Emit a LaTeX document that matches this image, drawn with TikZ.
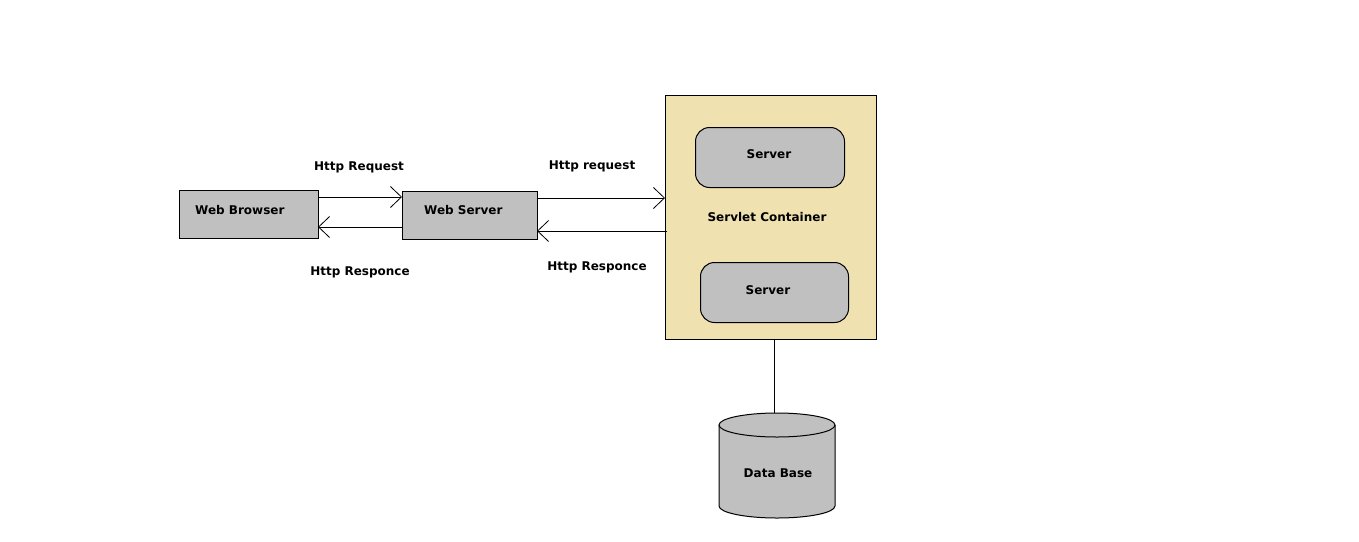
\documentclass[tikz,border=0pt]{standalone}
\usepackage{fontspec}
\setmainfont{DejaVu Sans}
\usetikzlibrary{arrows.meta}
\definecolor{boxgray}{HTML}{C0C0C0}
\definecolor{cont}{HTML}{EFE2B0}
\tikzset{
  lbl/.style={font=\bfseries\fontsize{12}{14}\selectfont, inner sep=0pt},
  gbox/.style={draw=black, fill=boxgray, line width=1pt, inner sep=0pt},
  conn/.style={line width=0.9pt, -{Straight Barb[length=11pt,width=21pt,line width=0.8pt]}},
  plain/.style={line width=0.9pt}
}
\begin{document}
\begin{tikzpicture}[x=1pt,y=-1pt]
\useasboundingbox[fill=white] (0,0) rectangle (1359,541);
% boxes
\node[gbox, minimum width=139pt, minimum height=48pt, anchor=north west] (wb) at (179,190) {};
\node[lbl, anchor=west] (wbt) at (195,210) {Web Browser};
\node[gbox, minimum width=135pt, minimum height=48pt, anchor=north west] (ws) at (402,191) {};
\node[lbl, anchor=west] (wst) at (424,210) {Web Server};
% container
\node[draw=black, fill=cont, line width=1pt, minimum width=211pt, minimum height=244pt, anchor=north west, inner sep=0pt] (sc) at (665,95) {};
\node[gbox, rounded corners=14pt, minimum width=149pt, minimum height=60pt, anchor=north west] (s1) at (695,127) {};
\node[lbl] (s1t) at (769,154) {Server};
\node[gbox, rounded corners=14pt, minimum width=148pt, minimum height=60pt, anchor=north west] (s2) at (700,262) {};
\node[lbl] (s2t) at (768,290) {Server};
\node[lbl] (sct) at (767,217) {Servlet Container};
% database (cylinder drawn by hand)
\node[minimum width=116pt, minimum height=107pt, anchor=north, inner sep=0pt] (db) at (777,412) {};
\fill[boxgray] (719,425) -- (719,506) arc[start angle=180, end angle=0, x radius=58, y radius=12] -- (835,425) arc[start angle=0, end angle=-180, x radius=58, y radius=12] -- cycle;
\draw[line width=1pt] (719,425) -- (719,506) arc[start angle=180, end angle=0, x radius=58, y radius=12] -- (835,425);
\draw[line width=1pt] (777,425) ellipse[x radius=58, y radius=12];
\node[lbl] (dbt) at (778,473) {Data Base};
% connector anchors
\coordinate (a1s) at (318,197);
\coordinate (a1e) at (402,197);
\coordinate (a2s) at (402,227);
\coordinate (a2e) at (318,227);
\coordinate (a3s) at (537,198);
\coordinate (a3e) at (665,198);
\coordinate (a4s) at (667,231);
\coordinate (a4e) at (537,231);
\coordinate (dbtop) at (774,413);
\draw[conn] (a1s) -- (a1e);
\draw[conn] (a2s) -- (a2e);
\draw[conn] (a3s) -- (a3e);
\draw[conn] (a4s) -- (a4e);
\draw[plain] (sc.south -| dbtop) -- (dbtop);
% labels
\node[lbl] (l1) at (359,167) {Http Request};
\node[lbl] (l2) at (360,272) {Http Responce};
\node[lbl] (l3) at (592,166) {Http request};
\node[lbl] (l4) at (597,267) {Http Responce};
\end{tikzpicture}
\end{document}
